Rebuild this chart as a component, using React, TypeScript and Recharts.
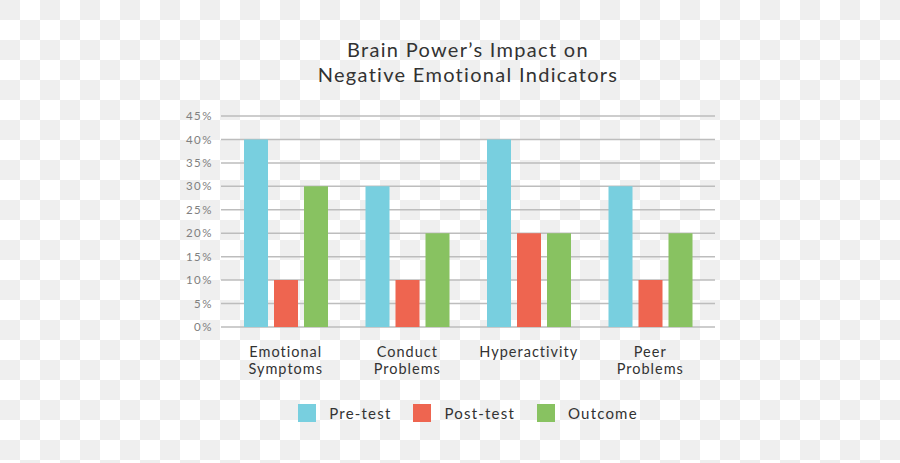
import React from 'react';
import { BarChart, Bar, XAxis, YAxis, CartesianGrid } from 'recharts';

const categories = ['Emotional Symptoms', 'Conduct Problems', 'Hyperactivity', 'Peer Problems'];
const preTest = [40, 30, 40, 30];
const postTest = [10, 10, 20, 10];
const outcome = [30, 20, 20, 20];
const yTicks = [0, 5, 10, 15, 20, 25, 30, 35, 40, 45];

const seriesNames = ['Pre-test', 'Post-test', 'Outcome'];
const seriesKeys = ['pre', 'post', 'outcome'];
const seriesColors = ['#78cfdf', '#ee6550', '#88c261'];

const labelLines: Record<string, string[]> = {
  'Emotional Symptoms': ['Emotional', 'Symptoms'],
  'Conduct Problems': ['Conduct', 'Problems'],
  'Hyperactivity': ['Hyperactivity'],
  'Peer Problems': ['Peer', 'Problems'],
};

const data = categories.map((name, i) => ({
  name,
  pre: preTest[i],
  post: postTest[i],
  outcome: outcome[i],
}));

const FONT = 'Lato, "Open Sans", sans-serif';

const CategoryTick = (props: any) => {
  const { x, y, payload } = props;
  const lines = labelLines[payload.value] || [payload.value];
  return (
    <text x={x} y={y} textAnchor="middle" fill="#333" fontSize={14.5} fontFamily={FONT} letterSpacing={1}>
      {lines.map((l, i) => (
        <tspan key={l} x={x} dy={i === 0 ? 22 : 17}>{l}</tspan>
      ))}
    </text>
  );
};

export default function App() {
  return (
    <div
      style={{
        position: 'absolute',
        left: 0,
        top: 0,
        width: 900,
        height: 463,
        backgroundColor: '#ffffff',
        backgroundImage:
          'linear-gradient(45deg, #efefef 25%, transparent 25%, transparent 75%, #efefef 75%), linear-gradient(45deg, #efefef 25%, transparent 25%, transparent 75%, #efefef 75%)',
        backgroundSize: '40px 40px',
        backgroundPosition: '20px 0, 0 20px',
      }}
    >
      <div
        style={{
          position: 'absolute',
          left: 0,
          top: 37,
          width: 936,
          textAlign: 'center',
          fontFamily: FONT,
          fontSize: 20,
          lineHeight: '25px',
          color: '#333',
          letterSpacing: 1.3,
        }}
      >
        Brain Power’s Impact on
        <br />
        Negative Emotional Indicators
      </div>
      <BarChart
        width={900}
        height={463}
        data={data}
        margin={{ top: 116, right: 185, left: 0, bottom: 106 }}
        barCategoryGap={19}
        barGap={6}
      >
        <CartesianGrid vertical={false} stroke="#bdbdbd" strokeWidth={1.5} />
        <XAxis
          dataKey="name"
          height={30}
          axisLine={false}
          tickLine={false}
          interval={0}
          padding={{ left: 4, right: 4 }}
          tick={<CategoryTick />}
        />
        <YAxis
          width={221}
          domain={[0, 45]}
          ticks={yTicks}
          axisLine={false}
          tickLine={false}
          tickFormatter={(v) => `${v}%`}
          tick={{ fill: '#808080', fontSize: 11.5, fontFamily: FONT, letterSpacing: 1.5 }}
        />
        {seriesKeys.map((k, i) => (
          <Bar key={k} dataKey={k} name={seriesNames[i]} fill={seriesColors[i]} isAnimationActive={false} />
        ))}
      </BarChart>
      <div
        style={{
          position: 'absolute',
          left: 221,
          top: 404,
          width: 494,
          display: 'flex',
          justifyContent: 'center',
          alignItems: 'center',
          fontFamily: FONT,
        }}
      >
        {seriesNames.map((n, i) => (
          <div key={n} style={{ display: 'flex', alignItems: 'center', marginLeft: i === 0 ? 0 : 22 }}>
            <span style={{ width: 18, height: 18, background: seriesColors[i], display: 'inline-block', marginRight: 13 }} />
            <span style={{ fontSize: 15, color: '#333', letterSpacing: 1.2 }}>{n}</span>
          </div>
        ))}
      </div>
    </div>
  );
}
